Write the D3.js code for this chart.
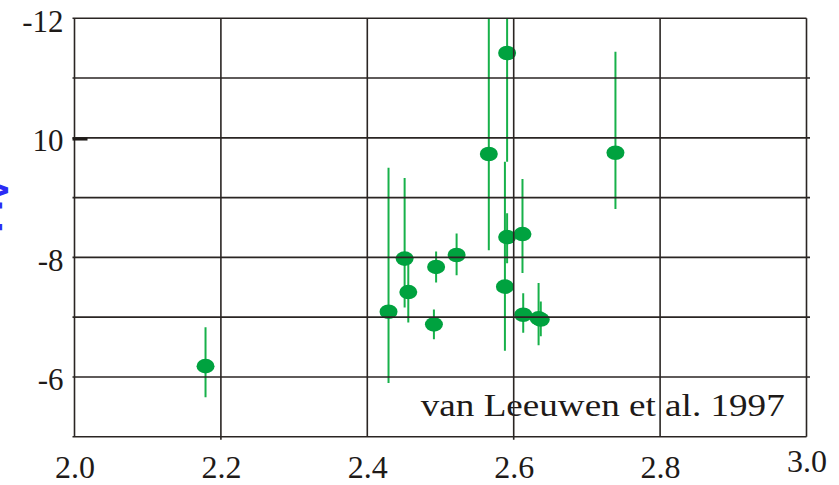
<!DOCTYPE html>
<html>
<head>
<meta charset="utf-8">
<script src="https://cdn.jsdelivr.net/npm/d3@7/dist/d3.min.js"></script>
<style>
  html, body { margin: 0; padding: 0; background: #fff; }
  svg { display: block; }
</style>
</head>
<body>
<script>
// Colour index (x) against absolute magnitude (y), with vertical error bars
const colourIndex = [2.179, 2.429, 2.451, 2.456, 2.494, 2.491, 2.522, 2.566, 2.591, 2.588, 2.591, 2.612, 2.613, 2.634, 2.637, 2.739];
const magnitude   = [-6.18, -7.09, -7.98, -7.42, -7.84, -6.88, -8.04, -9.73, -8.34, -7.51, -11.42, -8.39, -7.04, -6.98, -6.96, -9.75];
const magBright   = [-6.83, -9.50, -9.33, -7.95, -8.10, -7.13, -8.40, -12.5, -8.74, -9.60, -12.6, -9.31, -7.40, -7.57, -7.26, -11.44];
const magFaint    = [-5.66, -5.90, -7.16, -6.91, -7.58, -6.63, -7.70, -8.12, -7.90, -6.44, -9.60, -7.74, -6.74, -6.53, -6.68, -8.81];

const xTicks = [2.0, 2.2, 2.4, 2.6, 2.8, 3.0];
const xTickLabels = ["2.0", "2.2", "2.4", "2.6", "2.8", "3.0"];
const yTicks = [-12, -10, -8, -6];
const yTickLabels = ["-12", "10", "-8", "-6"];
const yGrid = [-12, -11, -10, -9, -8, -7, -6, -5];
const sourceNote = "van Leeuwen et al. 1997";

const W = 839, H = 485;
const svg = d3.select("body").append("svg").attr("width", W).attr("height", H);

const x = d3.scaleLinear().domain([2.0, 3.0]).range([74.5, 806.5]);
const y = d3.scaleLinear().domain([-12, -5]).range([18.3, 436.7]);

const gridColor = "#2a2523";
const serif = "'Liberation Serif', 'Times New Roman', serif";

svg.append("defs").append("clipPath").attr("id", "plotClip")
  .append("rect")
  .attr("x", x(2.0)).attr("y", y(-12))
  .attr("width", x(3.0) - x(2.0)).attr("height", y(-5) - y(-12));

// Source note inside the plot area
svg.append("text")
  .attr("x", x(2.0) + (x(3.0) - x(2.0)) * 0.473)
  .attr("y", y(-5.35))
  .attr("font-family", serif)
  .attr("font-size", 32)
  .attr("fill", "#1e1a18")
  .attr("textLength", 364)
  .attr("lengthAdjust", "spacingAndGlyphs")
  .text(sourceNote);

// Data marks
const pts = colourIndex.map((c, i) => ({ c, m: magnitude[i], lo: magBright[i], hi: magFaint[i] }));
const marks = svg.append("g").attr("clip-path", "url(#plotClip)");

marks.selectAll("line.err").data(pts).join("line")
  .attr("class", "err")
  .attr("x1", d => x(d.c)).attr("x2", d => x(d.c))
  .attr("y1", d => y(d.lo)).attr("y2", d => y(d.hi))
  .attr("stroke", "#17b14a").attr("stroke-width", 2);

marks.selectAll("ellipse").data(pts).join("ellipse")
  .attr("cx", d => x(d.c)).attr("cy", d => y(d.m))
  .attr("rx", 9).attr("ry", 7.3)
  .attr("fill", "#00a23f");

// Grid and frame drawn over the marks
const grid = svg.append("g").attr("stroke", gridColor).attr("stroke-width", 1.6);
grid.selectAll("line.h").data(yGrid).join("line")
  .attr("class", "h")
  .attr("x1", x(2.0) - 2).attr("x2", d => (d === -12 || d === -5) ? x(3.0) : x(3.0) + 3.5)
  .attr("y1", d => y(d)).attr("y2", d => y(d));
grid.selectAll("line.v").data(xTicks).join("line")
  .attr("class", "v")
  .attr("x1", d => x(d)).attr("x2", d => x(d))
  .attr("y1", y(-12)).attr("y2", d => (d === 2.2 || d === 2.6) ? y(-5) + 3 : y(-5));

// Short heavy tick on the left edge at -10
svg.append("line")
  .attr("x1", x(2.0) - 2).attr("x2", x(2.0) + 13)
  .attr("y1", y(-10) + 1.2).attr("y2", y(-10) + 1.2)
  .attr("stroke", "#1e1a18").attr("stroke-width", 3);

// Axes (labels only; grid is drawn above)
const xAxis = d3.axisBottom(x).tickValues(xTicks).tickSize(0)
  .tickFormat((d, i) => xTickLabels[i]);
const gx = svg.append("g").attr("transform", `translate(0,${y(-5)})`).call(xAxis);
gx.select(".domain").remove();
gx.selectAll("text")
  .attr("font-family", serif).attr("font-size", 32).attr("fill", "#1e1a18")
  .attr("dy", null).attr("y", (d) => d === 3.0 ? 35 : 41);

const yAxis = d3.axisLeft(y).tickValues(yTicks).tickSize(0)
  .tickFormat((d, i) => yTickLabels[i]);
const gy = svg.append("g").attr("transform", `translate(${x(2.0)},0)`).call(yAxis);
gy.select(".domain").remove();
gy.selectAll("text")
  .attr("font-family", serif).attr("font-size", 31).attr("fill", "#1e1a18")
  .attr("x", -11).attr("dy", "0.42em");

// Axis title (mostly cut off at the left edge)
const title = svg.append("text")
  .attr("transform", "translate(2,207) rotate(-90)")
  .attr("text-anchor", "middle")
  .attr("font-family", "'DejaVu Sans', sans-serif")
  .attr("font-weight", "bold")
  .attr("font-size", 34)
  .attr("fill", "#2b2bf5");
title.append("tspan").text("M");
title.append("tspan").attr("font-size", 24).attr("dy", 6).text("V");
</script>
</body>
</html>
